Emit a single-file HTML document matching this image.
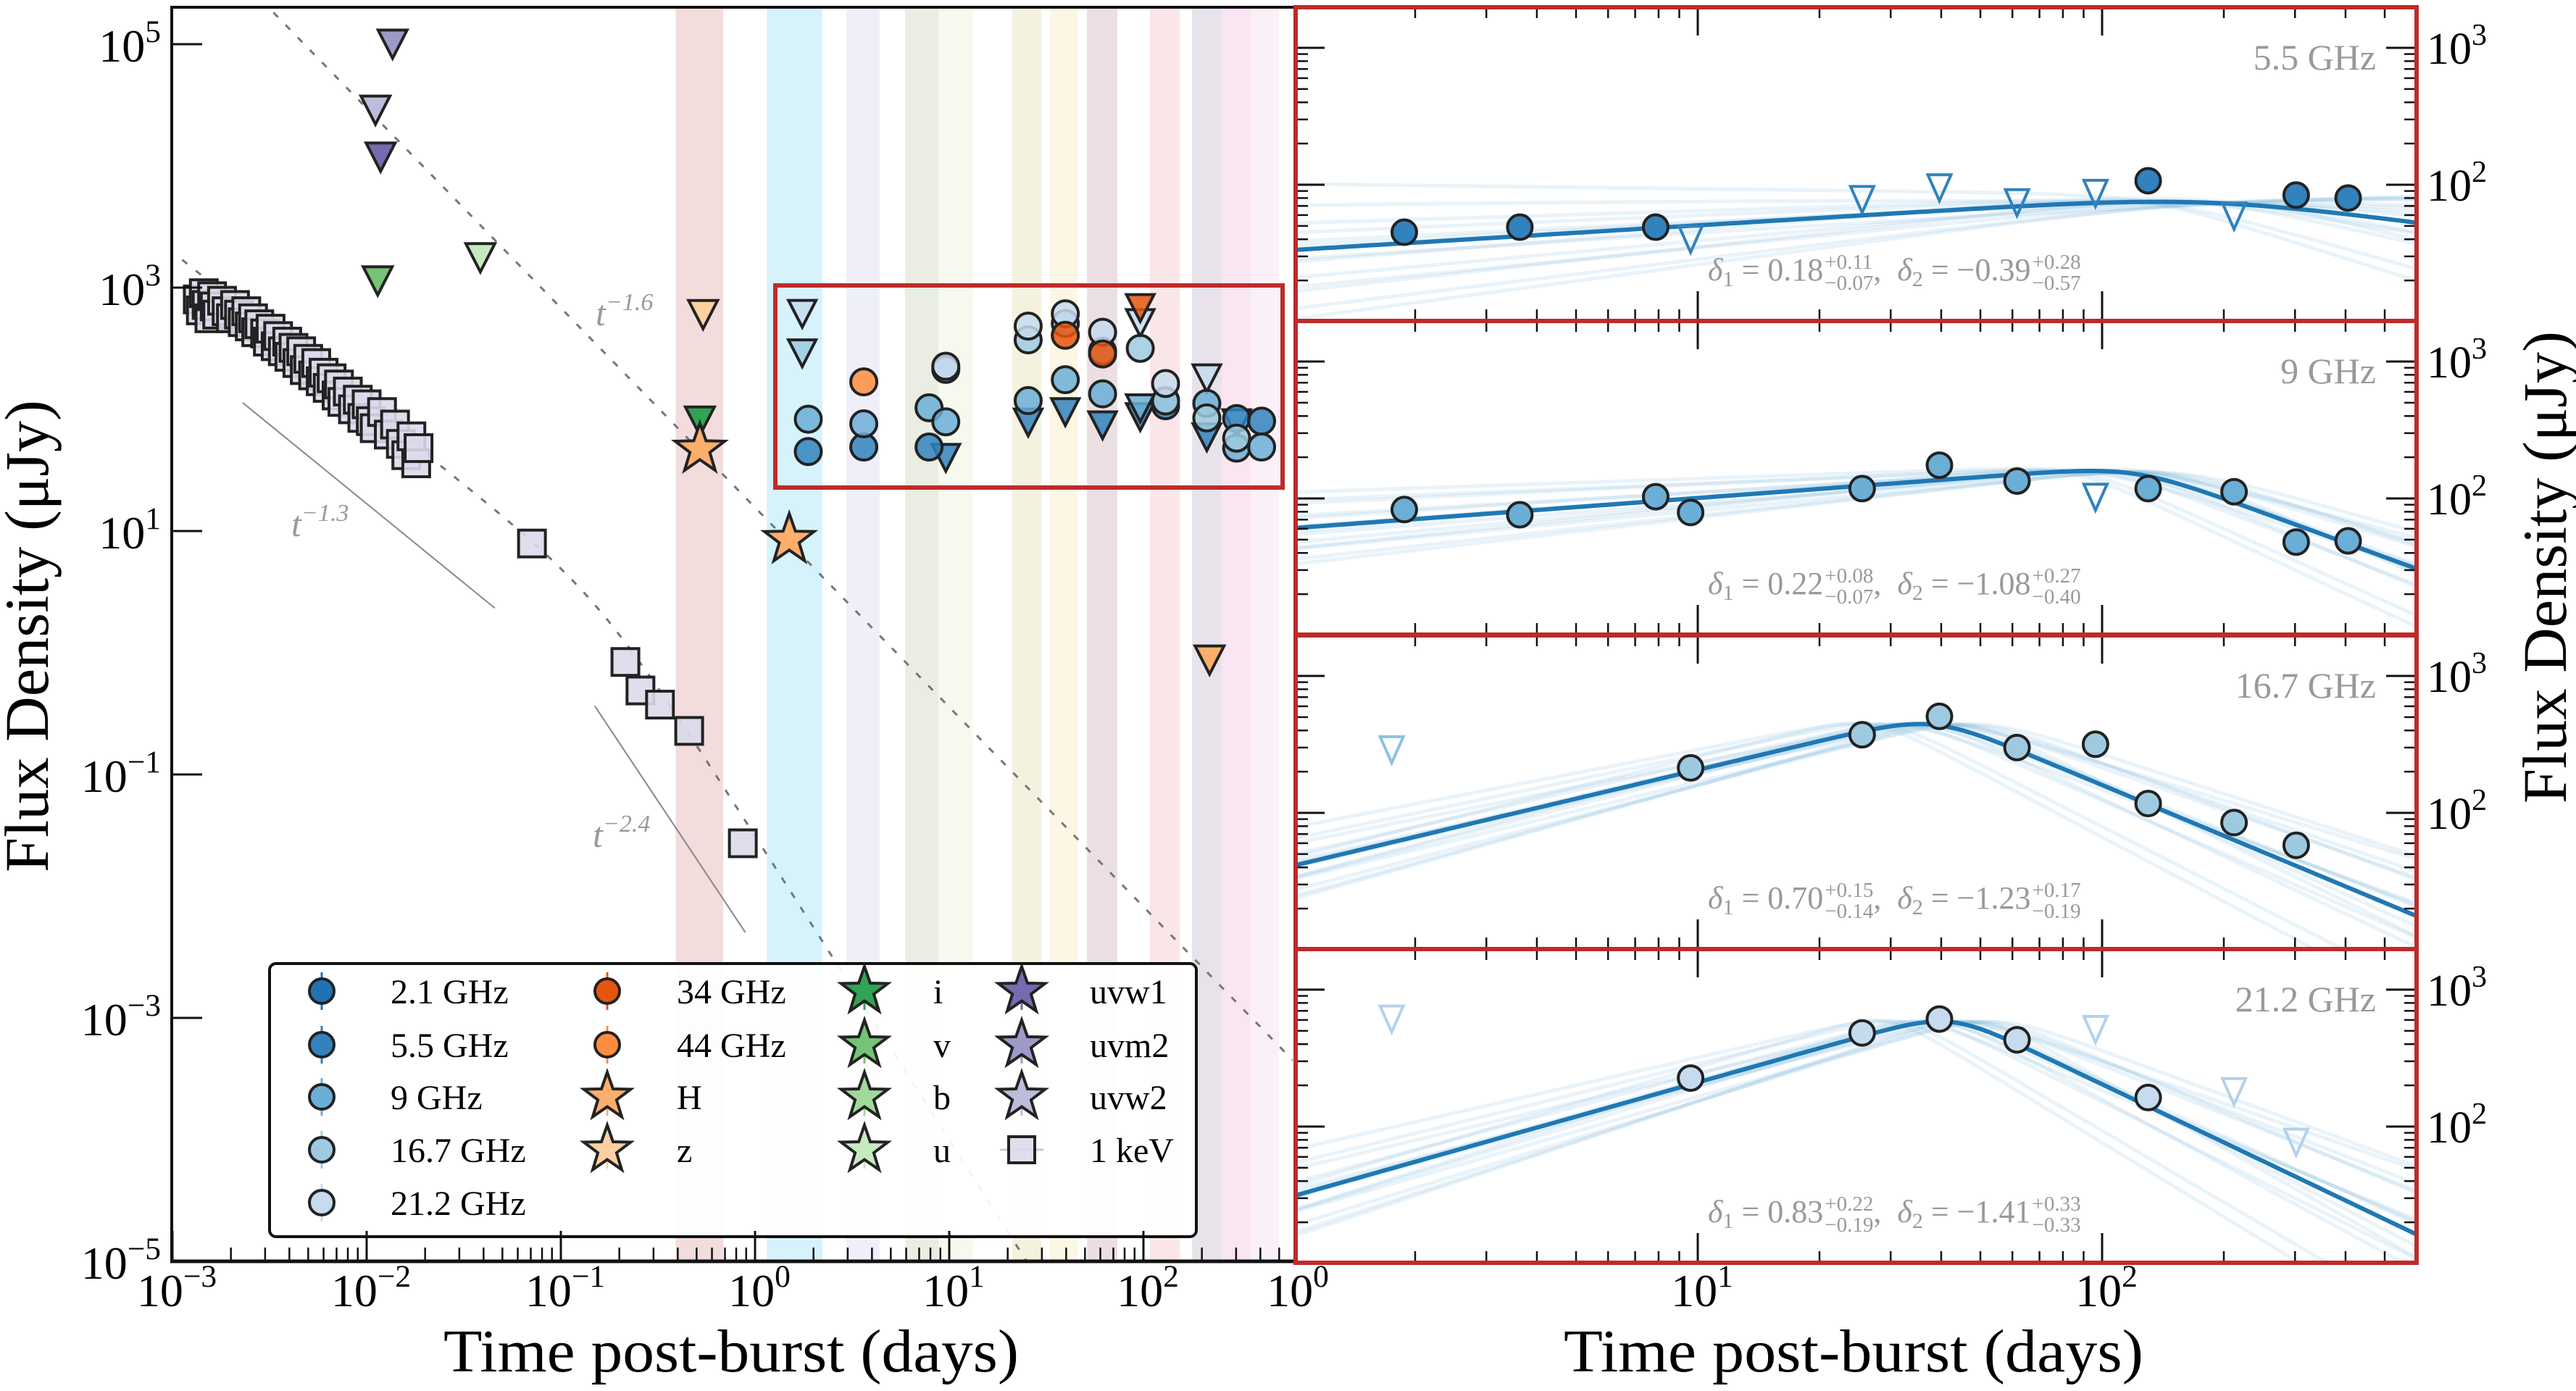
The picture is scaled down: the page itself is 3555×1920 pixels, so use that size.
<!DOCTYPE html>
<html><head><meta charset="utf-8">
<style>
html,body{margin:0;padding:0;background:#fff}
svg{display:block;font-family:"Liberation Serif","DejaVu Serif",serif}
</style></head>
<body>
<svg id="chart" width="3555" height="1920" viewBox="0 0 3555 1920" xmlns="http://www.w3.org/2000/svg">
<defs>
<clipPath id="clipL"><rect x="237" y="10" width="1547" height="1731"/></clipPath>
</defs>
<rect x="0" y="0" width="3555" height="1920" fill="#fff"/>
</svg>
<script>
// ---------------- DATA ----------------
const xrayT=[0.00135,0.0014,0.00145,0.0015,0.00155,0.0016,0.00165,0.0017,0.0018,0.0019,0.002,0.0021,0.0022,0.0023,0.0024,0.0025,0.0026,0.0027,0.0028,0.003,0.0031,0.0032,0.0034,0.0035,0.0037,0.0039,0.004,0.0042,0.0044,0.0046,0.0048,0.005,0.0053,0.0055,0.0058,0.006,0.0063,0.0066,0.007,0.0072,0.0075,0.008,0.0085,0.009,0.0095,0.01,0.0105,0.011,0.012,0.013,0.014,0.015,0.016,0.017,0.018,0.0185];
const xrayF=[800,650,900,720,560,850,700,600,780,640,560,720,600,520,640,480,560,430,500,420,360,460,330,400,300,360,270,320,240,300,210,260,190,240,170,200,150,180,130,160,115,140,100,120,85,110,80,70,95,62,75,52,42,60,36,48];
const xrayLateT=[0.071,0.215,0.257,0.324,0.458,0.865];
const xrayLateF=[7.9,0.84,0.49,0.375,0.228,0.0272];
const uvm2UT=[0.0136], uvm2UF=[100000];
const uvw2UT=[0.0111], uvw2UF=[28700];
const uvw1UT=[0.0118], uvw1UF=[11800];
const vUT=[0.0114], vUF=[1135];
const uUT=[0.0385], uUF=[1760];
const zUT=[0.54], zUF=[600];
const iUT=[0.52], iUF=[80];
const HT=[0.52,1.5], HF=[47,8.5];
const HUT=[219], HUF=[0.87];
const t55=[1.88,3.63,7.87,130,302,406], f55=[45,49,49,107,84,80];
const t55u=[9.6,25.5,39.6,61.6,96.3,212], f55u=[40,78,95,74,86.5,59];
const t9=[1.88,3.63,7.87,9.6,25.5,39.6,61.6,130,212,302,406], f9=[83,76,103,79,118,175,134,118,112,48,49];
const t9u=[96.3], f9u=[102];
const t167=[9.6,25.5,39.6,61.6,96.3,130,212,302], f167=[213,372,507,300,317,117,85,58];
const t167u=[1.75], f167u=[289];
const t212=[9.6,25.5,39.6,61.6,130], f212=[226,483,610,430,163];
const t212u=[1.75,96.3,212,302], f212u=[610,512,180,77];
const t34=[39.6,61.6], f34=[406,285];
const t34u=[96.3], f34u=[680];
const t44=[3.63], f44=[168];
const bandStart=[0.39,1.15,2.95,5.92,8.79,21.1,33.0,51.2,108,178,253,357];
const bandEnd=[0.686,2.22,4.38,8.79,13.2,29.8,45.7,73.4,154,253,357,499];
const fitTb=[180,120,38,42];
const fitFb=[85,174,525,692];
const fitD1=[0.18,0.22,0.70,0.83];
const fitD2=[-0.39,-1.08,-1.23,-1.41];
const fitS=[5,5,4,4];
const d1Txt=['0.18','0.22','0.70','0.83'], d1Up=['+0.11','+0.08','+0.15','+0.22'], d1Lo=['\u22120.07','\u22120.07','\u22120.14','\u22120.19'];
const d2Txt=['\u22120.39','\u22121.08','\u22121.23','\u22121.41'], d2Up=['+0.28','+0.27','+0.17','+0.33'], d2Lo=['\u22120.57','\u22120.40','\u22120.19','\u22120.33'];
const panelLabels=['5.5 GHz','9 GHz','16.7 GHz','21.2 GHz'];
const ensD1=[-0.08,-0.05,-0.03,-0.01,0.01,0.03,0.05,0.08,0.1,-0.1,0.0,0.06,-0.12,0.12];
const ensD2=[0.15,-0.2,0.1,-0.1,0.25,-0.3,0.05,-0.05,0.2,0.3,-0.15,0.12,-0.25,0.18];
const ensTb=[0.8,1.2,0.9,1.1,1.3,0.7,1.0,0.85,1.15,1.05,0.95,1.25,0.75,1.1];
const guideSlope=[-1.3,-2.4];
const xlTicks=[-3,-2,-1,0,1,2];
const ylTicks=[5,3,1,-1,-3,-5];

// ---------------- STYLE ----------------
const bandColors=['#f2dcdc','#d6f3fc','#efeffa','#eaeee2','#f7f9ee','#f4f1de','#fcf6e4','#ecdfe1','#fae6e8','#e8e3ea','#f9e6f2','#fcf0f8'];
const C={r21:'#2171b5',r55:'#3182bd',r9:'#6baed6',r167:'#9ecae1',r212:'#c6dbef',r34:'#e6550d',r44:'#fd8d3c',H:'#fdae6b',z:'#fdd0a2',i:'#31a354',v:'#74c476',b:'#a1d99b',u:'#c7e9c0',uvw1:'#756bb1',uvm2:'#9e9ac8',uvw2:'#bcbddc',x:'#dadaeb'};
const RED='#bf2a2a', GRAY='#999';
const NS="http://www.w3.org/2000/svg";
const svg=document.getElementById('chart');
function el(tag,attrs,name,parent){
  const e=document.createElementNS(NS,tag);
  for(const k in attrs) e.setAttribute(k,attrs[k]);
  
  
  (parent||svg).appendChild(e);
  return e;
}
const L10=Math.log10;
const LX=t=>238+(L10(t)+3)*268;
const LY=f=>61+(5-L10(f))*168;
const RT=[10,443,877,1310];
const RX=t=>1785+L10(t)*558;
const RY=(p,f)=>RT[p]+56+(3-L10(f))*189;

function circ(g,x,y,r,fill,name,op){return el('circle',{cx:x,cy:y,r:r,fill:fill,stroke:'#222','stroke-width':4,'fill-opacity':op||1},name,g);}
function tri(g,x,y,w,h,fill,stroke,name,sw){return el('polygon',{points:`${x-w/2},${y-h/2} ${x+w/2},${y-h/2} ${x},${y+h/2}`,fill:fill,stroke:stroke,'stroke-width':sw||4,'stroke-linejoin':'miter'},name,g);}
function star(g,x,y,R,fill,name){
  let pts=[];for(let k=0;k<10;k++){const a=-Math.PI/2+k*Math.PI/5;const rr=k%2?R*0.4:R;pts.push((x+rr*Math.cos(a)).toFixed(1)+','+(y+rr*Math.sin(a)).toFixed(1));}
  return el('polygon',{points:pts.join(' '),fill:fill,stroke:'#222','stroke-width':4,'stroke-linejoin':'miter'},name,g);
}
function sq(g,x,y,s,name){return el('rect',{x:x-s/2,y:y-s/2,width:s,height:s,fill:C.x,stroke:'#222','stroke-width':4,'fill-opacity':0.9},name,g);}
function powText(g,x,y,base,exp,size,anchor,name,color){
  const t=el('text',{x:x,y:y,'font-size':size,'text-anchor':anchor||'middle',fill:color||'#000'},name,g);
  const a=document.createElementNS(NS,'tspan');a.textContent=base;t.appendChild(a);
  const b=document.createElementNS(NS,'tspan');b.setAttribute('dy',-size*0.42);b.setAttribute('font-size',size*0.68);b.textContent=exp;t.appendChild(b);
  return t;
}
function bpl(t,tb,Fb,d1,d2,s){const r=t/tb;return Fb*Math.pow(Math.pow(r,-s*d1)+Math.pow(r,-s*d2),-1/s);}

// ---------------- LEFT PANEL ----------------
const gL=el('g',{'clip-path':'url(#clipL)'},'left-plot-area');
bandStart.forEach((s,i)=>{
  const b=el('rect',{x:LX(s),y:10,width:LX(bandEnd[i])-LX(s),height:1731,fill:bandColors[i]},'epoch-band',gL);
});
(function(){let d='';for(let lt=-2.48;lt<=2.8;lt+=0.05){const f=Math.pow(10,5.262-1.64*(lt+2.481));d+=(d?'L':'M')+LX(Math.pow(10,lt)).toFixed(1)+','+LY(f).toFixed(1);}
el('path',{d:d,fill:'none',stroke:'#777','stroke-width':3,'stroke-dasharray':'9,15'},'powerlaw-t-1.6-line',gL);})();
(function(){let d='';for(let lt=-2.95;lt<=1.4;lt+=0.03){const t=Math.pow(10,lt);const r=t/0.158;const f=Math.pow(10,0.5)*Math.pow(Math.pow(r,2*1.27)+Math.pow(r,2*2.5),-1/2);d+=(d?'L':'M')+LX(t).toFixed(1)+','+LY(f).toFixed(1);}
el('path',{d:d,fill:'none',stroke:'#777','stroke-width':3,'stroke-dasharray':'9,15'},'xray-model-line',gL);})();
(function(){
 const s1=[-2.638,2.054,-1.34], s2=[-0.825,-0.438,-0.05];
 [[s1,guideSlope[0]],[s2,guideSlope[1]]].forEach(([s,k],i)=>{
  const x1=LX(Math.pow(10,s[0])),y1=LY(Math.pow(10,s[1])),x2=LX(Math.pow(10,s[2])),y2=LY(Math.pow(10,s[1]+k*(s[2]-s[0])));
  el('line',{x1:x1,y1:y1,x2:x2,y2:y2,stroke:'#888','stroke-width':2},'guide-line-'+(i+1),gL);
 });
})();
powText(gL,822,449,'t','\u22121.6',50,'start','label-t-1.6',GRAY).setAttribute('font-style','italic');
powText(gL,402,740,'t','\u22121.3',50,'start','label-t-1.3',GRAY).setAttribute('font-style','italic');
powText(gL,818,1169,'t','\u22122.4',50,'start','label-t-2.4',GRAY).setAttribute('font-style','italic');
xrayT.forEach((t,i)=>sq(gL,LX(t),LY(xrayF[i]),37,'xray-point'));
xrayLateT.forEach((t,i)=>sq(gL,LX(t),LY(xrayLateF[i]),37,'xray-point'));
function lims(T,F,col,name){T.forEach((t,i)=>tri(gL,LX(t),LY(F[i]),40,39,col,'#222',name));}
lims(uvm2UT,uvm2UF,C.uvm2,'uvm2-upper-limit');
lims(uvw2UT,uvw2UF,C.uvw2,'uvw2-upper-limit');
lims(uvw1UT,uvw1UF,C.uvw1,'uvw1-upper-limit');
lims(vUT,vUF,C.v,'v-upper-limit');
lims(uUT,uUF,C.u,'u-upper-limit');
lims(zUT,zUF,C.z,'z-upper-limit');
lims(iUT,iUF,C.i,'i-upper-limit');
lims(HUT,HUF,C.H,'H-upper-limit');
HT.forEach((t,i)=>star(gL,LX(t),LY(HF[i]),36,C.H,'H-detection'));
function lrad(T,F,col,name){T.forEach((t,i)=>circ(gL,LX(t),LY(F[i]),18,col,name,0.85));}
function lradU(T,F,col,name){T.forEach((t,i)=>{const p=tri(gL,LX(t),LY(F[i]),38,37,col,'#222',name);p.setAttribute('fill-opacity',0.85);});}
lradU(t55u,f55u,C.r55,'5.5GHz-upper-limit');
lradU(t9u,f9u,C.r9,'9GHz-upper-limit');
lradU(t167u,f167u,C.r167,'16.7GHz-upper-limit');
lradU(t212u,f212u,C.r212,'21.2GHz-upper-limit');
lrad(t55,f55,C.r55,'5.5GHz-point');
lrad(t9,f9,C.r9,'9GHz-point');
lrad(t167,f167,C.r167,'16.7GHz-point');
lrad(t212,f212,C.r212,'21.2GHz-point');
lrad(t44,f44,C.r44,'44GHz-point');
lrad(t34,f34,C.r34,'34GHz-point');
lradU(t34u,f34u,C.r34,'34GHz-upper-limit');
el('rect',{x:1070,y:394,width:700,height:279,fill:'none',stroke:RED,'stroke-width':6},'zoom-box');

(function(){
 const g=el('g',{},'legend');
 el('rect',{x:372,y:1330,width:1279,height:377,rx:9,fill:'#fff','fill-opacity':0.92,stroke:'#111','stroke-width':4},'legend-frame',g);
 const mx=[444,838,1193,1410], tx=[539,934,1288,1504], ry=[1368,1442,1514,1587,1660];
 const entries=[
  [0,0,'c',C.r21,'2.1 GHz'],[0,1,'c',C.r55,'5.5 GHz'],[0,2,'c',C.r9,'9 GHz'],[0,3,'c',C.r167,'16.7 GHz'],[0,4,'c',C.r212,'21.2 GHz'],
  [1,0,'c',C.r34,'34 GHz'],[1,1,'c',C.r44,'44 GHz'],[1,2,'s',C.H,'H'],[1,3,'s',C.z,'z'],
  [2,0,'s',C.i,'i'],[2,1,'s',C.v,'v'],[2,2,'s',C.b,'b'],[2,3,'s',C.u,'u'],
  [3,0,'s',C.uvw1,'uvw1'],[3,1,'s',C.uvm2,'uvm2'],[3,2,'s',C.uvw2,'uvw2'],[3,3,'q',C.x,'1 keV']];
 entries.forEach(e=>{
  const x=mx[e[0]],y=ry[e[1]];
  if(e[2]==='c'){el('line',{x1:x,y1:y-26,x2:x,y2:y+26,stroke:e[3],'stroke-width':3},'legend-errorbar',g);circ(g,x,y,17,e[3],'legend-marker');}
  else if(e[2]==='s'){el('line',{x1:x,y1:y-20,x2:x,y2:y+26,stroke:e[3],'stroke-width':3},'legend-errorbar',g);star(g,x,y,34,e[3],'legend-marker');}
  else {el('line',{x1:x-30,y1:y,x2:x+30,y2:y,stroke:'#c8c8e0','stroke-width':3},'legend-errorbar',g);sq(g,x,y,36,'legend-marker');}
  const t=el('text',{x:tx[e[0]],y:y+17,'font-size':48},'legend-label',g);t.textContent=e[4];
 });
})();

(function(){
 const g=el('g',{},'left-axes');
 el('path',{d:'M237,1741 L237,10 L1786,10',fill:'none',stroke:'#111','stroke-width':4},'left-spine');
 el('line',{x1:235,y1:1741,x2:1790,y2:1741,stroke:'#111','stroke-width':5},'x-axis-line',g);
 xlTicks.forEach(k=>{
  const x=LX(Math.pow(10,k));
  el('line',{x1:x,y1:1741,x2:x,y2:1699,stroke:'#111','stroke-width':3},'x-major-tick',g);
  powText(g,x+6,1803,'10',k<0?'\u2212'+(-k):String(k),64,'middle','x-tick-label');
  for(let m=2;m<=9;m++){const v=m*Math.pow(10,k);if(LX(v)>1784)break;const xm=LX(v);el('line',{x1:xm,y1:1741,x2:xm,y2:1722,stroke:'#111','stroke-width':2.5},'x-minor-tick',g);}
 });
 ylTicks.forEach(k=>{
  const y=LY(Math.pow(10,k));
  el('line',{x1:237,y1:y,x2:279,y2:y,stroke:'#111','stroke-width':3},'y-major-tick',g);
  powText(g,222,y+24,'10',k<0?'\u2212'+(-k):String(k),64,'end','y-tick-label');
 });
 const yl=el('text',{x:0,y:0,'font-size':86,'text-anchor':'middle',transform:'translate(66,878) rotate(-90)',textLength:652,lengthAdjust:'spacingAndGlyphs'},'y-axis-title',g);
 yl.textContent='Flux Density (\u03bcJy)';
 const xl=el('text',{x:1009,y:1893,'font-size':84,'text-anchor':'middle',textLength:794,lengthAdjust:'spacingAndGlyphs'},'x-axis-title',g);
 xl.textContent='Time post-burst (days)';
})();

// ---------------- RIGHT PANELS ----------------
const defs=svg.querySelector('defs');
const rTf=[[t55,f55,t55u,f55u],[t9,f9,t9u,f9u],[t167,f167,t167u,f167u],[t212,f212,t212u,f212u]];
const rCol=[C.r55,C.r9,C.r167,C.r212];
const spread=[1.8,1.0,1.1,1.3];
for(let p=0;p<4;p++){
  const cp=document.createElementNS(NS,'clipPath');cp.setAttribute('id','clipR'+p);
  const cr=document.createElementNS(NS,'rect');cr.setAttribute('x',1788);cr.setAttribute('y',RT[p]);cr.setAttribute('width',1547);cr.setAttribute('height',433);cp.appendChild(cr);defs.appendChild(cp);
  el('rect',{x:1788,y:RT[p],width:1547,height:433,fill:'#fff'},'panel-background');
  const g=el('g',{'clip-path':`url(#clipR${p})`},'panel-'+panelLabels[p].replace(/[ .]/g,''));
  function path(tb,Fb,d1,d2,s){let d='';for(let lt=0;lt<=2.8;lt+=0.02){const t=Math.pow(10,lt);d+=(d?'L':'M')+RX(t).toFixed(1)+','+RY(p,bpl(t,tb,Fb,d1,d2,s)).toFixed(1);}return d;}
  ensD1.forEach((o,i)=>{
    el('path',{d:path(fitTb[p]*ensTb[i],fitFb[p],fitD1[p]+o*spread[p],fitD2[p]+ensD2[i]*spread[p],fitS[p]),fill:'none',stroke:'#6baed6','stroke-width':5,'stroke-opacity':0.15},'posterior-sample-line',g);
  });
  el('path',{d:path(fitTb[p],fitFb[p],fitD1[p],fitD2[p],fitS[p]),fill:'none',stroke:'#1f78b4','stroke-width':6},'best-fit-line',g);
  const [T,F,TU,FU]=rTf[p];
  TU.forEach((t,i)=>tri(g,RX(t),RY(p,FU[i]),32,36,'none',rCol[p]==C.r212?'#b3d1ec':(rCol[p]==C.r167?'#8fc0e0':'#3182bd'),'upper-limit',4));
  T.forEach((t,i)=>{
    el('line',{x1:RX(t),y1:RY(p,F[i]*0.8),x2:RX(t),y2:RY(p,F[i]*1.2),stroke:rCol[p],'stroke-width':3},'errorbar',g);
    circ(g,RX(t),RY(p,F[i]),17,rCol[p],'data-point');
  });
  const gt=el('g',{},'panel-ticks');
  [10,100].forEach(v=>{const x=RX(v);
    el('line',{x1:x,y1:RT[p],x2:x,y2:RT[p]+39,stroke:'#111','stroke-width':3},'x-major-tick',gt);
    el('line',{x1:x,y1:RT[p]+433,x2:x,y2:RT[p]+392,stroke:'#111','stroke-width':3},'x-major-tick',gt);});
  [1,10,100].forEach(dec=>{for(let m=2;m<=9;m++){const v=m*dec;if(RX(v)>3333)break;const x=RX(v);
    el('line',{x1:x,y1:RT[p],x2:x,y2:RT[p]+15,stroke:'#111','stroke-width':2.5},'x-minor-tick',gt);
    el('line',{x1:x,y1:RT[p]+433,x2:x,y2:RT[p]+417,stroke:'#111','stroke-width':2.5},'x-minor-tick',gt);}});
  [100,1000].forEach(v=>{const y=RY(p,v);
    el('line',{x1:1788,y1:y,x2:1828,y2:y,stroke:'#111','stroke-width':3},'y-major-tick',gt);
    el('line',{x1:3335,y1:y,x2:3293,y2:y,stroke:'#111','stroke-width':3},'y-major-tick',gt);
    powText(gt,3349,y+22,'10',String(L10(v)),62,'start','y-tick-label');});
  [10,100,1000].forEach(dec=>{for(let m=2;m<=9;m++){const v=m*dec;const y=RY(p,v);if(y<RT[p]+3||y>RT[p]+430)continue;
    el('line',{x1:1788,y1:y,x2:1805,y2:y,stroke:'#111','stroke-width':2.5},'y-minor-tick',gt);
    el('line',{x1:3335,y1:y,x2:3318,y2:y,stroke:'#111','stroke-width':2.5},'y-minor-tick',gt);}});
  const lab=el('text',{x:3279,y:RT[p]+86,'font-size':50,'text-anchor':'end',fill:GRAY},'frequency-label');
  lab.textContent=panelLabels[p];
  const ga=el('g',{},'fit-annotation');
  const base=RT[p]+377;let cx=2357;
  const parts=[{t:'\u03b4',it:1},{t:'1',sz:30,dy:8},{t:'\u00a0=\u00a0'+d1Txt[p]},{st:1,u:d1Up[p],l:d1Lo[p]},{t:',\u00a0\u00a0'},{t:'\u03b4',it:1},{t:'2',sz:30,dy:8},{t:'\u00a0=\u00a0'+d2Txt[p]},{st:1,u:d2Up[p],l:d2Lo[p]}];
  parts.forEach(q=>{
    if(q.st){const a=el('text',{x:cx+2,y:base-16,'font-size':29,fill:GRAY},'annotation-sup',ga);a.textContent=q.u;
      const b=el('text',{x:cx+2,y:base+13,'font-size':29,fill:GRAY},'annotation-sub',ga);b.textContent=q.l;
      cx+=2+Math.max(a.getComputedTextLength(),b.getComputedTextLength());}
    else {const a=el('text',{x:cx,y:base+(q.dy||0),'font-size':q.sz||44,fill:GRAY,'font-style':q.it?'italic':'normal'},'annotation-text',ga);a.textContent=q.t;cx+=a.getComputedTextLength();}
  });
}
for(let p=0;p<4;p++) el('rect',{x:1788,y:RT[p],width:1547,height:433,fill:'none',stroke:RED,'stroke-width':6},'panel-frame');
[0,1,2].forEach(k=>powText(svg,RX(Math.pow(10,k))+6,1803,'10',String(k),64,'middle','right-x-tick-label'));
(function(){
 const xl=el('text',{x:2558,y:1893,'font-size':84,'text-anchor':'middle',textLength:800,lengthAdjust:'spacingAndGlyphs'},'right-x-axis-title');
 xl.textContent='Time post-burst (days)';
 const yl=el('text',{x:0,y:0,'font-size':86,'text-anchor':'middle',transform:'translate(3541,783) rotate(-90)',textLength:652,lengthAdjust:'spacingAndGlyphs'},'right-y-axis-title');
 yl.textContent='Flux Density (\u03bcJy)';
})();
</script>
</body></html>
